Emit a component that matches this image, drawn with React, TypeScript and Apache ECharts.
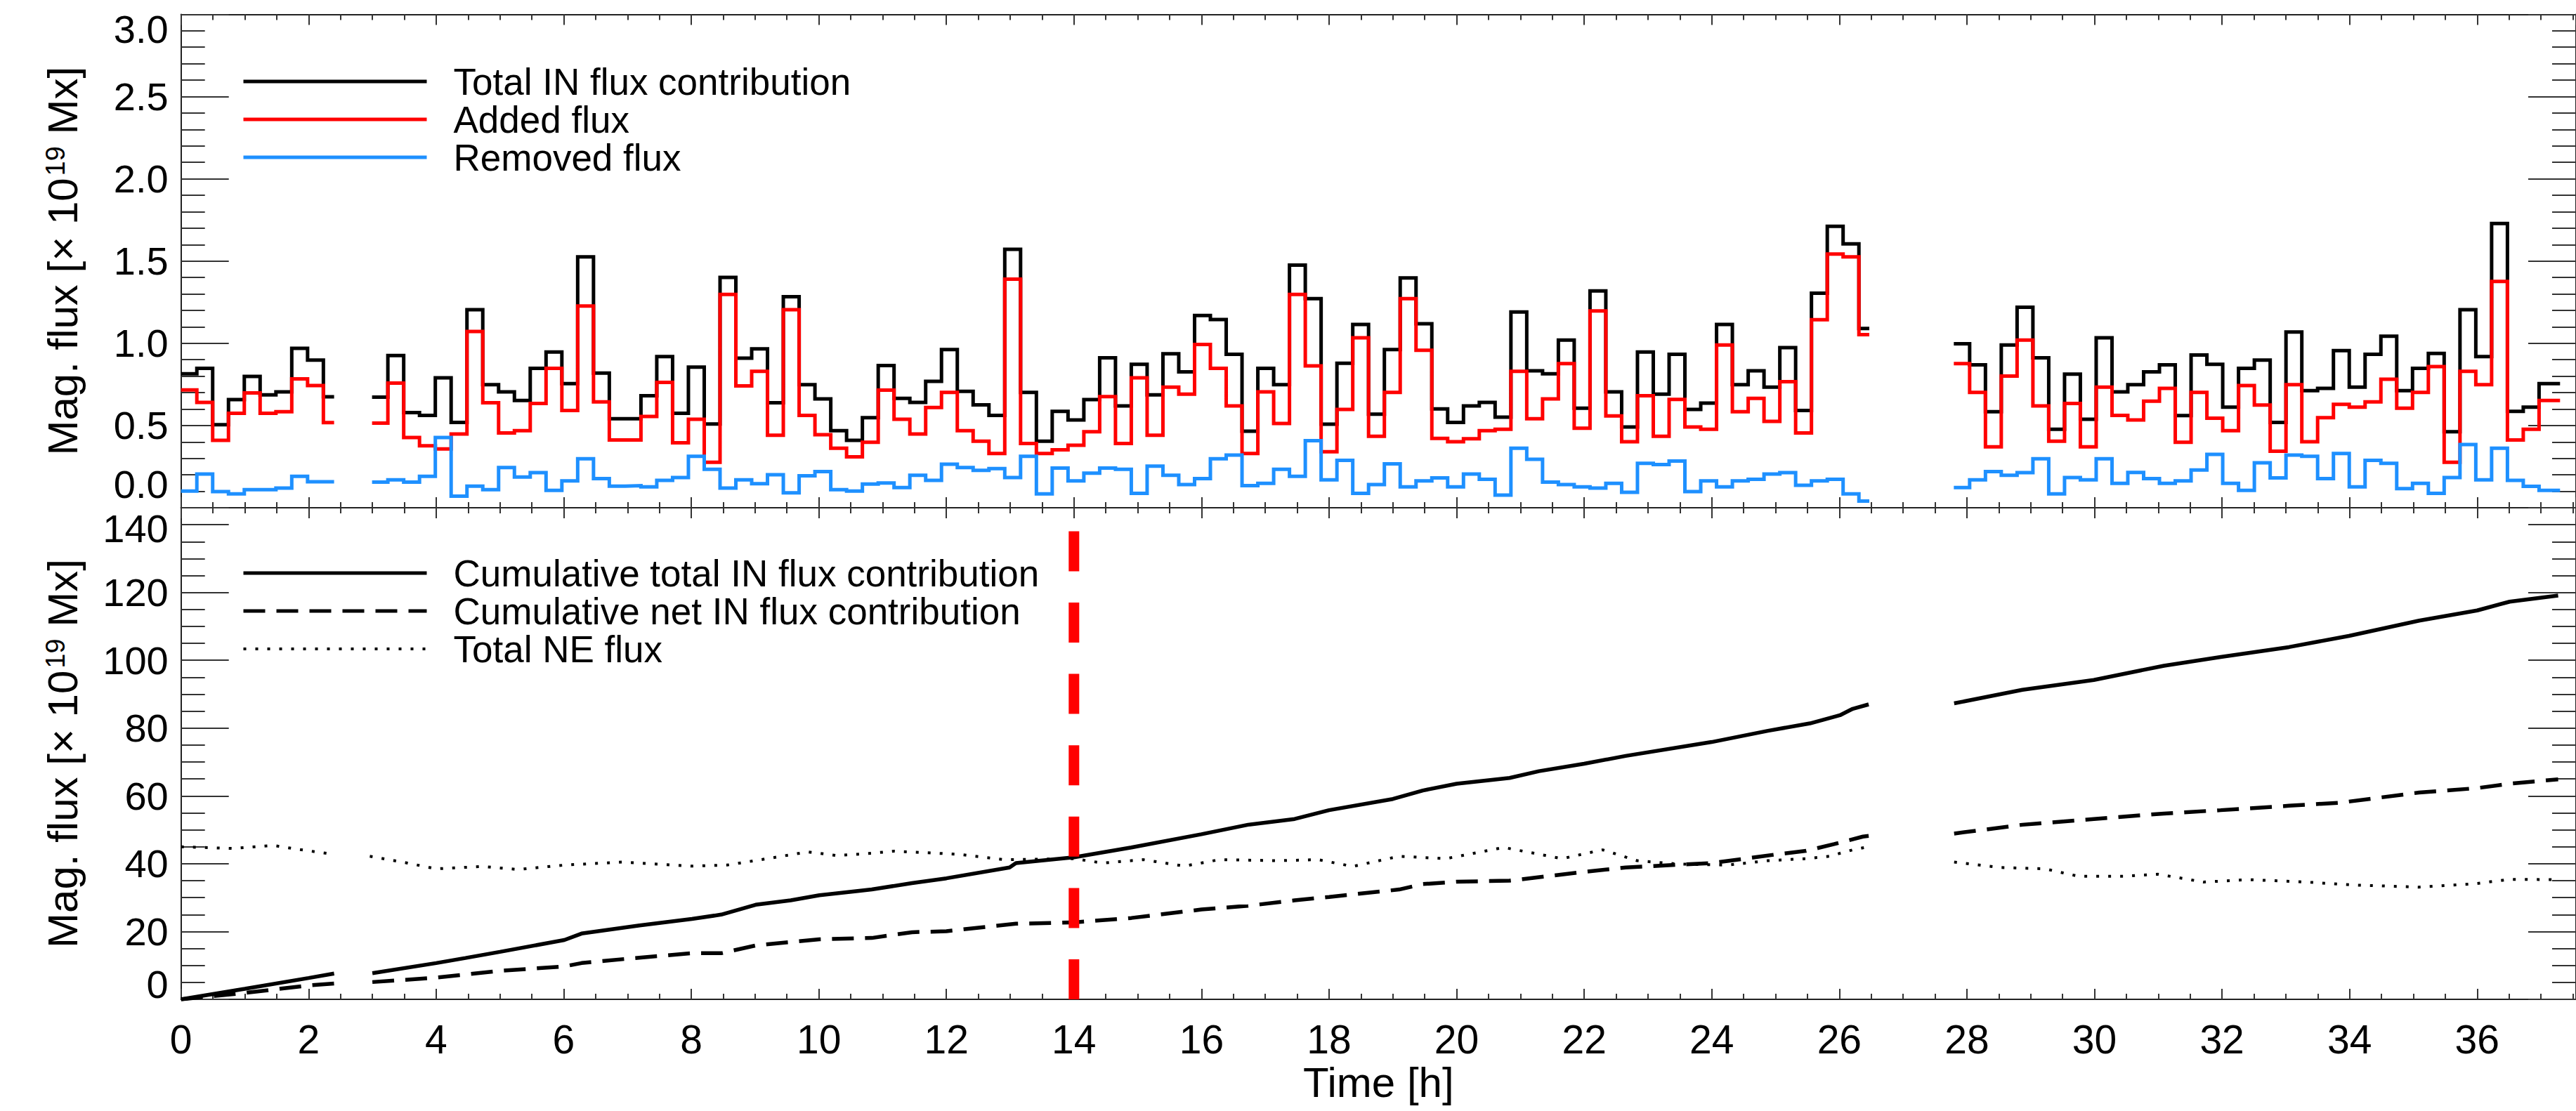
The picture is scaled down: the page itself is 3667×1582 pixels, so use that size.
import React, { useEffect, useRef } from "react";
import * as echarts from "echarts";

const FONT = '"Liberation Sans", Arial, Helvetica, sans-serif';
const WIDTH = 3667;
const HEIGHT = 1582;

// Time axis [h]
const TIME_MAX = 37.55;
const BIN_HOURS = 0.248;
const EVENT_TIME = 14;

// Observing segments (start of first bin, end of last bin) [h]
const segStart = [0, 2.995, 27.795];
const segEnd = [2.4, 26.47, 37.3];

// Top panel: flux per bin [1e19 Mx]
const totalIn1 = [0.815, 0.848, 0.505, 0.658, 0.798, 0.686, 0.705, 0.969, 0.898, 0.675];
const added1 = [0.716, 0.641, 0.41, 0.574, 0.698, 0.574, 0.584, 0.783, 0.743, 0.518];
const removed1 = [0.101, 0.205, 0.098, 0.084, 0.11, 0.11, 0.12, 0.191, 0.158, 0.158];

const totalIn2 = [
  0.672, 0.926, 0.579, 0.562, 0.79, 0.519, 1.204, 0.748, 0.705, 0.652,
  0.848, 0.947, 0.755, 1.525, 0.819, 0.541, 0.541, 0.681, 0.919, 0.574,
  0.855, 0.509, 1.401, 0.909, 0.966, 0.638, 1.283, 0.748, 0.662, 0.469,
  0.41, 0.548, 0.865, 0.665, 0.641, 0.769, 0.962, 0.708, 0.626, 0.562,
  1.571, 0.701, 0.405, 0.586, 0.534, 0.658, 0.912, 0.619, 0.872, 0.686,
  0.936, 0.826, 1.169, 1.144, 0.933, 0.465, 0.848, 0.748, 1.475, 1.271,
  0.508, 0.879, 1.114, 0.569, 0.962, 1.397, 1.119, 0.601, 0.519, 0.619,
  0.641, 0.551, 1.19, 0.833, 0.815, 1.019, 0.605, 1.318, 0.705, 0.491,
  0.947, 0.691, 0.933, 0.598, 0.636, 1.114, 0.748, 0.833, 0.733, 0.973,
  0.591, 1.304, 1.711, 1.604, 1.09,
];
const added2 = [
  0.515, 0.758, 0.427, 0.377, 0.358, 0.448, 1.072, 0.638, 0.455, 0.469,
  0.634, 0.848, 0.591, 1.226, 0.644, 0.412, 0.412, 0.555, 0.762, 0.395,
  0.538, 0.277, 1.297, 0.741, 0.829, 0.441, 1.204, 0.562, 0.444, 0.362,
  0.31, 0.398, 0.715, 0.538, 0.448, 0.609, 0.701, 0.469, 0.405, 0.33,
  1.39, 0.391, 0.33, 0.352, 0.38, 0.462, 0.676, 0.391, 0.79, 0.441,
  0.733, 0.691, 0.993, 0.848, 0.619, 0.33, 0.705, 0.512, 1.297, 0.862,
  0.341, 0.598, 1.033, 0.434, 0.701, 1.271, 0.957, 0.422, 0.401, 0.42,
  0.469, 0.477, 0.829, 0.541, 0.662, 0.876, 0.484, 1.197, 0.558, 0.401,
  0.681, 0.434, 0.659, 0.491, 0.477, 0.99, 0.584, 0.665, 0.525, 0.766,
  0.455, 1.143, 1.543, 1.525, 1.052,
];
const removed2 = [
  0.156, 0.17, 0.156, 0.191, 0.427, 0.07, 0.131, 0.11, 0.244, 0.187,
  0.213, 0.106, 0.163, 0.298, 0.177, 0.131, 0.134, 0.127, 0.166, 0.184,
  0.313, 0.234, 0.12, 0.17, 0.146, 0.201, 0.091, 0.194, 0.22, 0.11,
  0.101, 0.144, 0.151, 0.123, 0.198, 0.167, 0.265, 0.244, 0.227, 0.238,
  0.184, 0.313, 0.084, 0.241, 0.163, 0.21, 0.241, 0.234, 0.087, 0.253,
  0.198, 0.141, 0.177, 0.298, 0.32, 0.134, 0.148, 0.234, 0.191, 0.408,
  0.17, 0.288, 0.087, 0.141, 0.267, 0.127, 0.163, 0.181, 0.127, 0.205,
  0.173, 0.077, 0.362, 0.295, 0.156, 0.141, 0.127, 0.12, 0.148, 0.094,
  0.27, 0.263, 0.284, 0.098, 0.163, 0.127, 0.163, 0.173, 0.205, 0.214,
  0.137, 0.163, 0.173, 0.084, 0.041,
];

const totalIn3 = [
  0.997, 0.869, 0.584, 0.99, 1.219, 0.912, 0.477, 0.812, 0.538, 1.033,
  0.705, 0.748, 0.826, 0.869, 0.56, 0.929, 0.872, 0.612, 0.848, 0.898,
  0.519, 1.069, 0.712, 0.726, 0.955, 0.733, 0.933, 1.043, 0.712, 0.848,
  0.938, 0.462, 1.204, 0.919, 1.728, 0.586, 0.612, 0.755,
];
const added3 = [
  0.876, 0.701, 0.37, 0.801, 1.019, 0.619, 0.405, 0.634, 0.37, 0.733,
  0.562, 0.534, 0.648, 0.726, 0.398, 0.701, 0.544, 0.469, 0.743, 0.624,
  0.344, 0.748, 0.401, 0.548, 0.629, 0.612, 0.644, 0.781, 0.605, 0.701,
  0.858, 0.277, 0.829, 0.748, 1.376, 0.412, 0.477, 0.652,
];
const removed3 = [
  0.123, 0.17, 0.22, 0.198, 0.213, 0.298, 0.084, 0.184, 0.17, 0.298,
  0.148, 0.215, 0.177, 0.148, 0.163, 0.23, 0.324, 0.148, 0.106, 0.273,
  0.181, 0.32, 0.313, 0.177, 0.33, 0.127, 0.288, 0.27, 0.116, 0.148,
  0.087, 0.184, 0.384, 0.17, 0.362, 0.166, 0.13, 0.106,
];

// Bottom panel: [time h, flux 1e19 Mx]
const cumTotal1 = [[0, 0], [1, 3.1], [2, 6.3], [2.4, 7.6]];
const cumTotal2 = [
  [3.0, 7.7], [4.0, 10.7], [4.46, 12.2], [5.0, 14.0], [6.01, 17.5], [6.28, 19.4],
  [7.19, 21.8], [8.01, 23.7], [8.47, 25.0], [9.01, 27.9], [9.56, 29.2], [10.01, 30.7],
  [10.83, 32.4], [11.46, 34.3], [12.0, 35.7], [12.99, 38.9], [13.09, 40.2], [14.0, 41.9],
  [14.9, 44.8], [16.0, 48.7], [16.73, 51.5], [17.46, 53.2], [18.0, 55.8], [19.0, 59.1],
  [19.47, 61.6], [20.0, 63.6], [20.83, 65.3], [21.29, 67.3], [22.0, 69.5], [22.65, 71.8],
  [24.0, 75.9], [24.88, 79.2], [25.54, 81.4], [26.01, 83.8], [26.21, 85.7], [26.46, 87.0],
];
const cumTotal3 = [
  [27.8, 87.3], [28.87, 91.3], [29.99, 94.2], [31.09, 98.4], [31.98, 101.0], [33.05, 103.9],
  [33.99, 107.2], [35.09, 111.7], [36.0, 114.7], [36.51, 117.3], [37.27, 119.1],
];

const cumNet1 = [[0, 0], [1, 1.9], [2, 4.1], [2.41, 4.7]];
const cumNet2 = [
  [3.0, 5.1], [4.0, 6.4], [5.0, 8.4], [6.01, 9.7], [6.28, 10.7], [7.01, 12.0],
  [8.01, 13.6], [8.47, 13.6], [9.01, 15.9], [10.01, 17.7], [10.83, 18.1], [11.46, 19.8],
  [12.0, 20.1], [13.09, 22.3], [14.0, 22.7], [14.9, 24.0], [16.0, 26.5], [16.73, 27.6],
  [17.46, 29.2], [18.0, 30.2], [19.1, 32.4], [19.47, 34.0], [20.0, 34.7], [20.83, 35.0],
  [22.0, 37.6], [22.65, 38.9], [23.99, 40.2], [24.6, 41.7], [25.03, 42.8], [25.48, 43.8],
  [25.92, 45.8], [26.37, 48.0], [26.46, 48.2],
];
const cumNet3 = [
  [27.8, 48.9], [28.87, 51.5], [29.99, 53.2], [31.09, 54.8], [31.98, 55.8], [33.05, 57.1],
  [33.85, 58.0], [35.09, 61.0], [36.0, 62.3], [36.51, 63.6], [37.27, 64.9],
];

const neFlux1 = [[0, 45.0], [0.82, 44.5], [1.44, 45.4], [1.89, 44.1], [2.39, 42.8]];
const neFlux2 = [
  [2.96, 42.2], [3.55, 40.2], [4.0, 38.5], [4.73, 39.2], [5.28, 38.3], [6.01, 39.6],
  [6.92, 40.5], [8.01, 39.3], [8.56, 39.6], [9.19, 41.5], [9.83, 43.5], [10.29, 42.4],
  [10.83, 43.1], [11.18, 43.7], [12.18, 42.8], [12.91, 41.2], [14.0, 41.5], [14.45, 40.2],
  [15.09, 41.2], [15.73, 39.3], [16.28, 41.2], [17.19, 40.9], [17.83, 41.2], [18.37, 39.2],
  [19.1, 42.2], [19.83, 41.5], [20.74, 44.8], [21.65, 41.5], [22.29, 44.1], [22.83, 40.9],
  [23.47, 39.9], [24.25, 39.6], [24.88, 40.9], [25.48, 41.5], [25.84, 42.2], [26.21, 44.1],
  [26.46, 45.0],
];
const neFlux3 = [
  [27.8, 40.5], [28.51, 38.9], [29.22, 38.5], [29.75, 36.3], [30.46, 36.3], [31.0, 36.9],
  [31.71, 34.6], [32.42, 35.3], [33.31, 34.6], [34.11, 33.7], [35.09, 33.1], [35.97, 34.1],
  [36.51, 35.4], [37.27, 35.3],
];

// Vertical marker at the event time, spanning the lower panel
const eventLine = [[EVENT_TIME, 0], [EVENT_TIME, 145]];

const GAP: [null, null] = [null, null];

function stepPoints(start: number, end: number, values: number[]) {
  const pts: (number | null)[][] = values.map((v, i) => [start + i * BIN_HOURS, v]);
  pts.push([end, values[values.length - 1]]);
  return pts;
}

function steps(sets: number[][]) {
  const out: (number | null)[][] = [];
  sets.forEach((vals, i) => {
    if (i > 0) out.push(GAP);
    out.push(...stepPoints(segStart[i], segEnd[i], vals));
  });
  return out;
}

function joined(sets: number[][][]) {
  const out: (number | null)[][] = [];
  sets.forEach((pts, i) => {
    if (i > 0) out.push(GAP);
    out.push(...pts);
  });
  return out;
}

const AXIS_COLOR = "#222";
const TICK_COLOR = "#333";
const MAJOR_X = 15;
const MINOR_X = 8;
const MAJOR_Y = 68;
const MINOR_Y = 34;

function xAxis(gridIndex: number, position: string, interval: number, tickLen: number, line: boolean, extra: any = {}) {
  return {
    type: "value",
    gridIndex,
    position,
    min: 0,
    max: TIME_MAX,
    interval,
    axisLine: { show: line, onZero: false, lineStyle: { color: AXIS_COLOR, width: 2 } },
    axisTick: { show: true, inside: true, length: tickLen, lineStyle: { color: TICK_COLOR, width: 2 } },
    axisLabel: { show: false },
    splitLine: { show: false },
    ...extra,
  };
}

function yAxis(gridIndex: number, position: string, max: number, interval: number, tickLen: number, line: boolean, extra: any = {}) {
  return {
    type: "value",
    gridIndex,
    position,
    min: 0,
    max,
    interval,
    axisLine: { show: line, onZero: false, lineStyle: { color: AXIS_COLOR, width: 2 } },
    axisTick: { show: true, inside: true, length: tickLen, lineStyle: { color: TICK_COLOR, width: 2 } },
    axisLabel: { show: false },
    splitLine: { show: false },
    ...extra,
  };
}

const yTitle = "Mag. flux [× 10{sup|19} Mx]";
const titleStyle = {
  fontSize: 60,
  fontFamily: FONT,
  color: "#000",
  rich: { sup: { fontSize: 38, fontFamily: FONT, color: "#000", verticalAlign: "top", padding: [0, 0, 0, 3] } },
};
const yLabelBase = { fontSize: 56, fontFamily: FONT, color: "#000" };
const xLabelBase = { fontSize: 57, fontFamily: FONT, color: "#000" };

function buildOption() {
  const topNames = ["Total IN flux contribution", "Added flux", "Removed flux"];
  const bottomNames = [
    "Cumulative total IN flux contribution",
    "Cumulative net IN flux contribution",
    "Total NE flux",
  ];
  const legendBase = {
    orient: "vertical",
    left: 344,
    padding: 0,
    itemGap: 0,
    itemWidth: 261,
    itemHeight: 20,
    selectedMode: false,
    itemStyle: { opacity: 0 },
    textStyle: { fontSize: 53, fontFamily: FONT, color: "#000", lineHeight: 54, padding: [0, 0, 0, 33] },
  };

  return {
    animation: false,
    backgroundColor: "#fff",
    textStyle: { fontFamily: FONT },
    grid: [
      { left: 257.7, right: -9, top: 20.4, height: 702.6 },
      { left: 257.7, right: -9, top: 723, height: 700 },
    ],
    legend: [
      {
        ...legendBase,
        top: 89,
        data: topNames.map((name) => ({ name, lineStyle: { width: 5 } })),
      },
      {
        ...legendBase,
        top: 789,
        data: [
          { name: bottomNames[0], lineStyle: { width: 5 } },
          { name: bottomNames[1], lineStyle: { width: 5 } },
          { name: bottomNames[2], lineStyle: { width: 4 } },
        ],
      },
    ],
    xAxis: [
      xAxis(0, "bottom", 2, MAJOR_X, true),
      xAxis(0, "bottom", 0.5, MINOR_X, false),
      xAxis(0, "top", 2, MAJOR_X, true),
      xAxis(0, "top", 0.5, MINOR_X, false),
      xAxis(1, "bottom", 2, MAJOR_X, true, {
        name: "Time [h]",
        nameLocation: "middle",
        nameGap: 88,
        nameTextStyle: { fontSize: 60, fontFamily: FONT, color: "#000" },
        axisLabel: { show: true, margin: 28, showMaxLabel: false, ...xLabelBase },
      }),
      xAxis(1, "bottom", 0.5, MINOR_X, false),
      xAxis(1, "top", 2, MAJOR_X, true),
      xAxis(1, "top", 0.5, MINOR_X, false),
    ],
    yAxis: [
      yAxis(0, "left", 3, 0.5, MAJOR_Y, true, {
        name: yTitle,
        nameLocation: "middle",
        nameGap: 138,
        nameTextStyle: titleStyle,
        axisLabel: {
          show: true,
          margin: 18,
          ...yLabelBase,
          formatter: (v: number) => (v === 3 ? "{t|3.0}" : v === 0 ? "{b|0.0}" : v.toFixed(1)),
          rich: {
            t: { ...yLabelBase, padding: [43, 0, 0, 0] },
            b: { ...yLabelBase, padding: [0, 0, 68, 0] },
          },
        },
      }),
      yAxis(0, "left", 3, 0.1, MINOR_Y, false),
      yAxis(0, "right", 3, 0.5, MAJOR_Y, true),
      yAxis(0, "right", 3, 0.1, MINOR_Y, false),
      yAxis(1, "left", 145, 20, MAJOR_Y, true, {
        name: yTitle,
        nameLocation: "middle",
        nameGap: 138,
        nameTextStyle: titleStyle,
        axisLabel: {
          show: true,
          margin: 18,
          showMaxLabel: false,
          ...yLabelBase,
          formatter: (v: number) =>
            v === 0 ? "{b|0}" : v === 140 ? "{t|140}" : v % 20 === 0 && v < 140 ? String(v) : "",
          rich: {
            b: { ...yLabelBase, padding: [0, 0, 43, 0] },
            t: { ...yLabelBase, padding: [10, 0, 0, 0] },
          },
        },
      }),
      yAxis(1, "left", 145, 5, MINOR_Y, false),
      yAxis(1, "right", 145, 20, MAJOR_Y, true),
      yAxis(1, "right", 145, 5, MINOR_Y, false),
    ],
    series: [
      {
        name: topNames[0],
        type: "line",
        xAxisIndex: 0,
        yAxisIndex: 0,
        step: "end",
        symbol: "none",
        color: "#000000",
        lineStyle: { color: "#000000", width: 5, join: "miter" },
        data: steps([totalIn1, totalIn2, totalIn3]),
        z: 2,
      },
      {
        name: topNames[1],
        type: "line",
        xAxisIndex: 0,
        yAxisIndex: 0,
        step: "end",
        symbol: "none",
        color: "#ff0000",
        lineStyle: { color: "#ff0000", width: 5, join: "miter" },
        data: steps([added1, added2, added3]),
        z: 3,
      },
      {
        name: topNames[2],
        type: "line",
        xAxisIndex: 0,
        yAxisIndex: 0,
        step: "end",
        symbol: "none",
        color: "#1e90ff",
        lineStyle: { color: "#1e90ff", width: 5, join: "miter" },
        data: steps([removed1, removed2, removed3]),
        z: 4,
      },
      {
        name: bottomNames[0],
        type: "line",
        xAxisIndex: 4,
        yAxisIndex: 4,
        symbol: "none",
        color: "#000000",
        lineStyle: { color: "#000000", width: 5.5 },
        data: joined([cumTotal1, cumTotal2, cumTotal3]),
        z: 2,
      },
      {
        name: bottomNames[1],
        type: "line",
        xAxisIndex: 4,
        yAxisIndex: 4,
        symbol: "none",
        color: "#000000",
        lineStyle: { color: "#000000", width: 5.5, type: [31, 16] },
        data: joined([cumNet1, cumNet2, cumNet3]),
        z: 2,
      },
      {
        name: bottomNames[2],
        type: "line",
        xAxisIndex: 4,
        yAxisIndex: 4,
        symbol: "none",
        color: "#000000",
        lineStyle: { color: "#000000", width: 4, type: [4, 13] },
        data: joined([neFlux1, neFlux2, neFlux3]),
        z: 2,
      },
      {
        name: "Event",
        type: "line",
        xAxisIndex: 4,
        yAxisIndex: 4,
        symbol: "none",
        silent: true,
        color: "#ff0000",
        lineStyle: { color: "#ff0000", width: 15, type: [57, 44.6] },
        data: eventLine,
        z: 10,
      },
    ],
  };
}

export default function App() {
  const ref = useRef<HTMLDivElement>(null);
  useEffect(() => {
    document.body.style.margin = "0";
    const chart = echarts.init(ref.current!, null, { renderer: "svg", width: WIDTH, height: HEIGHT });
    chart.setOption(buildOption() as any);
    return () => chart.dispose();
  }, []);
  return (
    <div
      ref={ref}
      style={{ position: "absolute", left: 0, top: 0, width: WIDTH, height: HEIGHT, background: "#fff" }}
    />
  );
}
